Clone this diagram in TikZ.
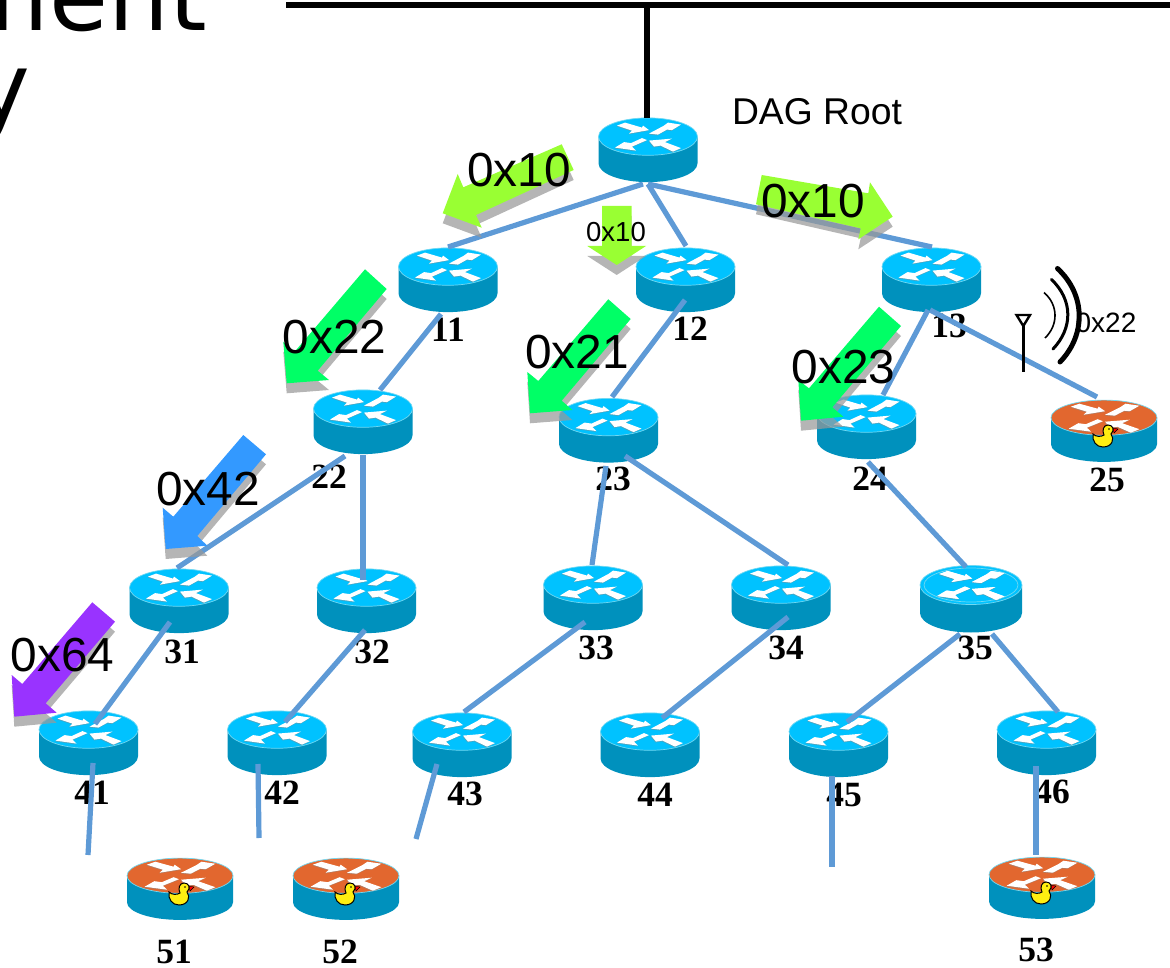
\documentclass[tikz,border=0pt]{standalone}
\usepackage{fontspec}
\setmainfont{Liberation Sans}
\newfontfamily\lblfont{Liberation Serif}
\newfontfamily\titlefont{DejaVu Sans}
\definecolor{linkblue}{HTML}{5E9AD6}
\definecolor{rface}{HTML}{00C2FF}
\definecolor{rside}{HTML}{0091BD}
\definecolor{rrim}{HTML}{70D8F2}
\definecolor{oface}{HTML}{E2672F}
\definecolor{lime}{HTML}{99FF33}
\definecolor{sgreen}{HTML}{00FF66}
\definecolor{sblue}{HTML}{3399FF}
\definecolor{spurple}{HTML}{9933FF}
\definecolor{shade}{HTML}{999999}
\definecolor{duckyellow}{HTML}{FFEE11}
\tikzset{
  routerbox/.style={minimum width=99pt,minimum height=66pt,inner sep=0pt,outer sep=0pt},
  link/.style={draw=linkblue,line width=5.2pt},
  bus/.style={draw=black,line width=5.4pt},
  num/.style={inner sep=0pt,font=\lblfont\bfseries\fontsize{35.5}{36}\selectfont},
  biglabel/.style={inner sep=0pt,font=\fontsize{47.8}{48}\selectfont},
  smalllabel/.style={inner sep=0pt,font=\fontsize{27.5}{28}\selectfont},
  shadowpoly/.style={fill=shade,fill opacity=.72,draw=none},
  whitearrow/.style={fill=white,draw=none},
}
\newcommand{\arrowset}[1]{%
  \fill[#1] (-31,-11) -- (-23,-14) -- (-6,-9) -- (-5,-11) -- (1,-6.5) -- (-19,-3) -- (-16,-6) -- cycle;
  \fill[#1] (1,-3) -- (15.5,-10.7) -- (20,-14) -- (33,-12) -- (24,-6.5) -- (19,-7) -- (10,-2) -- cycle;
  \fill[#1] (-6,1.5) -- (-17,6.5) -- (-24,5.5) -- (-33,11) -- (-12,14) -- (-16,10) -- (-1,3.5) -- cycle;
  \fill[#1] (33,11.5) -- (25,15) -- (12.5,9) -- (6,10) -- (1,4) -- (24,2) -- (17,5.5) -- cycle;}
\newcommand{\rtrart}[4]{%
  \path[fill=rside] (-#1,-#2) -- (-#1,#2)
     arc[start angle=180,end angle=360,x radius=#1pt,y radius=#3pt] -- (#1,-#2) -- cycle;
  \path[fill=#4,draw=rrim,line width=.7pt] (0,-#2) ellipse [x radius=#1pt,y radius=#3pt];
  \begin{scope}[shift={(0,-#2)},xscale=#1/49.5]
    \begin{scope}[shift={(-.5,.8)}]\arrowset{black!45,fill opacity=.55}\end{scope}
    \arrowset{whitearrow}
  \end{scope}}
\newcommand{\router}[3]{%
  \node[routerbox] (#1) at (#2,#3) {};
  \begin{scope}[shift={(#1.center)}]\rtrart{49.5}{13.4}{18.7}{rface}\end{scope}}
\newcommand{\bigrouter}[3]{%
  \node[routerbox,minimum width=102pt,minimum height=68pt] (#1) at (#2,#3) {};
  \begin{scope}[shift={(#1.center)}]
    \rtrart{51}{14}{19.5}{rface}
    \draw[rrim,line width=.7pt] (0,-14) ellipse [x radius=47pt,y radius=17pt];
    \begin{scope}[shift={(0,-14)}]\arrowset{whitearrow}\end{scope}
  \end{scope}}
\newcommand{\duckrouter}[3]{%
  \node[routerbox,minimum width=106pt,minimum height=62pt] (#1) at (#2,#3) {};
  \begin{scope}[shift={(#1.center)}]
    \rtrart{53}{13.3}{17.6}{oface}
    \path[fill=red,draw=black,line width=.4pt] (9,-3) -- (14,-2) -- (10,2) -- cycle;
    \path[fill=duckyellow,draw=black,line width=1pt]
      (-11,3) .. controls (-8,6) and (-3,6) .. (0,4)
      .. controls (-2,0) and (-1,-6) .. (4,-6)
      .. controls (9,-6) and (11,-1) .. (7,3)
      .. controls (11,8) and (8,16) .. (-1,16)
      .. controls (-8,16) and (-12,10) .. (-11,3) -- cycle;
    \fill[black] (5,-2) circle (.9pt);
  \end{scope}}
\newcommand{\lnk}[6]{\draw[link] ([shift={(#2,#3)}]#1.center) -- ([shift={(#5,#6)}]#4.center);}
\newcommand{\flag}[2]{%
  \path[shadowpoly,shift={(0,10)}] #2;
  \path[fill=#1] #2;}
\begin{document}
\begin{tikzpicture}[x=1pt,y=-1pt]
\useasboundingbox (0,0) rectangle (1170,968);
% title fragments
\node[anchor=base east,inner sep=0pt,font=\titlefont\fontsize{96}{96}\selectfont] (titleA) at (207,31) {ment};
\node[anchor=base east,inner sep=0pt,font=\titlefont\fontsize{96}{96}\selectfont] (titleB) at (31,122) {y};
% routers
\router{root}{648}{150}
\router{r11}{448}{280}
\router{r12}{685.5}{280}
\router{r13}{931.5}{280}
\router{r22}{363}{422}
\router{r23}{608.5}{430.5}
\router{r24}{866.5}{427}
\duckrouter{r25}{1104}{431}
\router{r31}{179}{601}
\router{r32}{366.5}{601}
\router{r33}{593}{598}
\router{r34}{781}{598}
\bigrouter{r35}{971}{599}
\router{r41}{88.5}{743}
\router{r42}{277}{743}
\router{r43}{462}{745}
\router{r44}{650}{745}
\router{r45}{838.5}{745}
\router{r46}{1046.5}{743}
\duckrouter{r51}{180}{889}
\duckrouter{r52}{346}{889}
\duckrouter{r53}{1042}{888}
% number labels
\node[num] (n11) at (448,330) {11};
\node[num] (n12) at (690,329) {12};
\node[num] (n13) at (949,326) {13};
\node[num] (n22) at (329,477) {22};
\node[num] (n23) at (613,479) {23};
\node[num] (n24) at (870,479) {24};
\node[num] (n25) at (1107,480) {25};
\node[num] (n31) at (182,652) {31};
\node[num] (n32) at (372,652) {32};
\node[num] (n33) at (596,648) {33};
\node[num] (n34) at (786,648) {34};
\node[num] (n35) at (975,648) {35};
\node[num] (n41) at (92,793) {41};
\node[num] (n42) at (282,793) {42};
\node[num] (n43) at (465,794) {43};
\node[num] (n44) at (655,795) {44};
\node[num] (n45) at (844,795) {45};
\node[num] (n46) at (1052,792) {46};
\node[num] (n51) at (174,952) {51};
\node[num] (n52) at (340,952) {52};
\node[num] (n53) at (1036,950) {53};
% backbone
\coordinate (busL) at (286,5);
\coordinate (busR) at (1170,5);
\coordinate (busT) at (647,5);
\draw[bus] (busL) -- (busR);
\draw[bus] (busT) -- ([shift={(-1,-32)}]root.center);
% links
\lnk{root}{-5}{34}{r11}{0}{-33}
\lnk{root}{0}{34}{r12}{0.5}{-34}
\lnk{root}{0}{34}{r13}{0.5}{-33}
\lnk{r11}{-7}{34}{r22}{17}{-32}
\lnk{r12}{-0.5}{20}{r23}{3.5}{-33.5}
\lnk{r13}{-3.5}{30}{r24}{16.5}{-32}
\lnk{r13}{-1.5}{30}{r25}{-7}{-34}
\lnk{r22}{-18}{34}{r31}{-2}{-33}
\lnk{r22}{0}{33}{r32}{-3.5}{-21}
\lnk{r23}{-2.5}{35.5}{r33}{-1}{-33}
\lnk{r23}{16.5}{25.5}{r34}{7}{-33}
\lnk{r24}{1.5}{35}{r35}{-5}{-32}
\lnk{r31}{-9}{21}{r41}{6.5}{-19}
\lnk{r32}{-1.5}{29}{r42}{8}{-21}
\lnk{r33}{-8}{24}{r43}{2}{-33}
\lnk{r34}{7}{19}{r44}{12}{-27}
\lnk{r35}{-11}{35}{r45}{8.5}{-23}
\lnk{r35}{21}{35}{r46}{11.5}{-31}
\coordinate (f1) at (88,855);
\coordinate (f2) at (259,838);
\coordinate (f3) at (416,839);
\coordinate (f4) at (832,867);
\draw[link] ([shift={(4.5,20)}]r41.center) -- (f1);
\draw[link] ([shift={(-19,21)}]r42.center) -- (f2);
\draw[link] ([shift={(-25,19)}]r43.center) -- (f3);
\draw[link] ([shift={(-6.5,31)}]r45.center) -- (f4);
\lnk{r46}{-10.5}{23}{r53}{-6}{-33}
% block arrows
\flag{lime}{(561.7,144.3) -- (573.7,170) -- (476,215) -- (481.7,227.7) -- (442.7,213.3) -- (457.7,174) -- (463.3,187.3) -- cycle}
\flag{lime}{(602,206) -- (631.7,206) -- (631.7,246) -- (646,246) -- (616.7,265) -- (587.3,246) -- (602,246) -- cycle}
\flag{lime}{(761.7,175) -- (756,204.3) -- (860.7,228.3) -- (858.3,239.3) -- (892.7,216.7) -- (870,182.3) -- (868.3,193.3) -- cycle}
\flag{sgreen}{(365,269.3) -- (386.7,289) -- (317.7,370.7) -- (329,380) -- (286.7,383.3) -- (283.3,341.7) -- (293.3,353.3) -- cycle}
\flag{sgreen}{(608.3,299.3) -- (630.7,319) -- (561.7,400.7) -- (572.3,410) -- (530,413.3) -- (527.3,372) -- (538.3,381) -- cycle}
\flag{sgreen}{(879,306.7) -- (901,326) -- (832.3,407.3) -- (843.3,416.7) -- (801,420.7) -- (798.3,380) -- (809,388.3) -- cycle}
\flag{sblue}{(243.3,435) -- (266,454.3) -- (197.3,536) -- (207.3,545.7) -- (165.7,549) -- (162.7,507.7) -- (173.3,516.7) -- cycle}
\flag{spurple}{(92.3,602.3) -- (115,621.7) -- (45.7,703.3) -- (56.7,712.7) -- (14.3,716.7) -- (11.7,675) -- (22.3,684) -- cycle}
% arrow labels
\node[biglabel] (a1) at (519,170) {0x10};
\node[smalllabel] (a2) at (616,232) {0x10};
\node[biglabel] (a3) at (813,201) {0x10};
\node[biglabel] (a4) at (334.5,337) {0x22};
\node[biglabel] (a5) at (577,352) {0x21};
\node[biglabel] (a6) at (843.5,367) {0x23};
\node[biglabel] (a7) at (208,489) {0x42};
\node[biglabel] (a8) at (62.5,655) {0x64};
\node[inner sep=0pt,font=\fontsize{37.3}{38}\selectfont] (dag) at (817,112) {DAG Root};
% antenna and waves
\draw[line width=2.4pt,join=miter] (1016.5,315) -- (1030,315) -- (1023.3,326) -- cycle;
\draw[line width=2.4pt] (1023.3,326) -- (1023.3,372);
\draw[line width=1.6pt] (1044,292.5) .. controls (1058.5,305) and (1058.5,325) .. (1045,338);
\draw[line width=3pt,line cap=round] (1051.5,279.5) .. controls (1073,300) and (1073,328) .. (1053,349);
\draw[line width=5pt,line cap=round] (1057.5,268.5) .. controls (1086,295) and (1086,335) .. (1060,362);
\node[smalllabel,font=\fontsize{28}{28}\selectfont] (a9) at (1106,323) {0x22};
\end{tikzpicture}
\end{document}
